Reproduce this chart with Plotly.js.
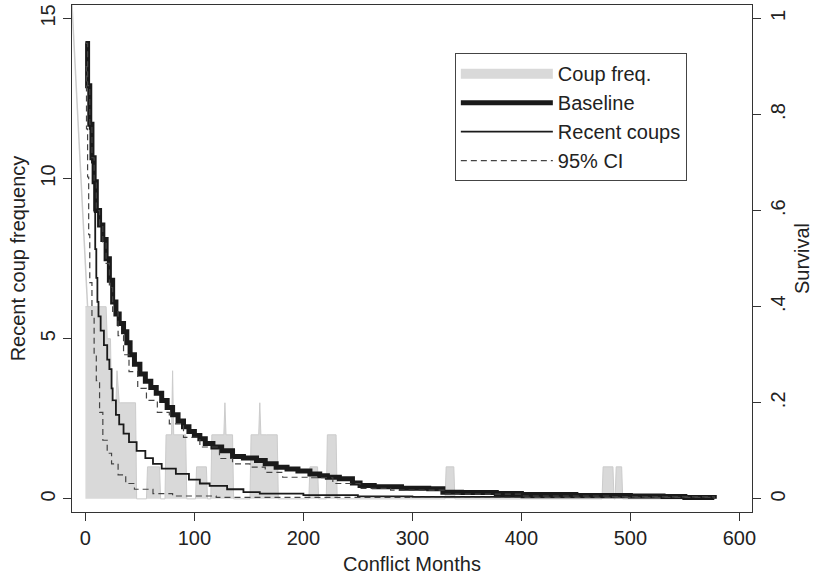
<!DOCTYPE html>
<html><head><meta charset="utf-8">
<script src="https://cdn.plot.ly/plotly-3.0.1.min.js"></script>
<style>html,body{margin:0;padding:0;background:#fff}#c{width:815px;height:581px}</style>
</head><body><div id="c"></div>
<script>
// Coup frequency (left axis)
var freqMonths = [0,2,12,13,19,20,22,23,24,25,28,29,31,32,33,34,46,47,56,57,68,69,73,74,79,80,81,92,93,101,102,111,112,115,116,127,128,129,135,136,151,152,159,160,161,166,167,176,177,205,206,213,214,221,222,230,231,330,331,338,339,474,475,484,485,486,487,492,493,577];
var freqValues = [6,6,6,6,6,5,5,5,3,3,3,4,3,3,3,3,3,0,0,1,1,0,0,2,2,4,2,2,0,0,1,1,0,0,2,2,3,2,2,0,0,2,2,3,2,2,2,2,0,0,1,1,0,0,2,2,0,0,1,1,0,0,1,1,0,0,1,1,0,0];
// leading edge of the frequency series (drawn as a thin line only)
var freqLeadMonths = [-20,2];
var freqLeadValues = [20.5,6];

// Survival (right axis)
var baseMonths = [0,2,4,6,8,10,13,16,19,22,25,28,31,35,38,41,45,50,55,60,65,70,75,80,85,90,95,100,105,110,117,125,135,145,157,165,175,185,195,206,215,222,233,245,252,265,290,315,328,345,377,400,450,500,530,550,577];
var baseSurv = [0.948,0.86,0.78,0.71,0.66,0.60,0.57,0.54,0.50,0.455,0.41,0.385,0.365,0.348,0.325,0.30,0.28,0.26,0.245,0.232,0.22,0.205,0.19,0.175,0.162,0.15,0.14,0.132,0.125,0.115,0.108,0.10,0.088,0.085,0.080,0.073,0.066,0.062,0.058,0.052,0.048,0.045,0.042,0.033,0.028,0.025,0.022,0.021,0.014,0.013,0.011,0.009,0.007,0.006,0.005,0.003,0.0];
var recMonths = [0,2,4,6,7,8,9,10,11,12,14,17,20,22,24,25,28,31,35,40,47,55,62,70,83,95,105,114,130,145,160,200,250,300,400,577];
var recSurv = [0.948,0.86,0.77,0.70,0.66,0.60,0.52,0.46,0.41,0.38,0.35,0.32,0.29,0.27,0.23,0.205,0.175,0.155,0.136,0.118,0.10,0.085,0.073,0.063,0.052,0.040,0.032,0.027,0.020,0.014,0.011,0.008,0.005,0.004,0.003,0.0];
var ciLoMonths = [0,1,2,3,4,6,8,10,13,16,20,24,30,37,45,62,80,120,577];
var ciLo = [0.90,0.77,0.67,0.55,0.45,0.38,0.30,0.246,0.18,0.122,0.095,0.073,0.05,0.032,0.02,0.011,0.006,0.003,0.0];
var ciHiMonths = [0,2,4,6,8,10,13,16,19,22,25,30,35,40,48,56,66,77,90,105,123,135,151,165,181,206,227,252,280,330,400,480,577];
var ciHi = [0.948,0.86,0.78,0.71,0.66,0.60,0.57,0.535,0.49,0.44,0.39,0.34,0.30,0.265,0.23,0.205,0.18,0.156,0.128,0.108,0.084,0.073,0.066,0.055,0.045,0.044,0.032,0.022,0.018,0.010,0.006,0.004,0.0];

var dashStyle = {color:'#444', width:1.2, dash:'6px,4px', shape:'hv'};
var traces = [
  {x:freqMonths, y:freqValues, type:'scatter', mode:'lines', fill:'tozeroy', fillcolor:'#d9d9d9', line:{color:'#cccccc', width:1}, name:'Coup freq.', showlegend:false, yaxis:'y'},
  {x:[null], y:[null], type:'scatter', mode:'lines', line:{color:'#d9d9d9', width:18}, name:'Coup freq.', yaxis:'y'},
  {x:freqLeadMonths, y:freqLeadValues, type:'scatter', mode:'lines', line:{color:'#cccccc', width:1.5}, showlegend:false, yaxis:'y'},
  {x:baseMonths, y:baseSurv, type:'scatter', mode:'lines', line:{color:'#1a1a1a', width:5, shape:'hv'}, name:'Baseline', yaxis:'y2'},
  {x:recMonths, y:recSurv, type:'scatter', mode:'lines', line:{color:'#1a1a1a', width:1.8, shape:'hv'}, name:'Recent coups', yaxis:'y2'},
  {x:ciLoMonths, y:ciLo, type:'scatter', mode:'lines', line:dashStyle, name:'95% CI', legendgroup:'ci', yaxis:'y2'},
  {x:ciHiMonths, y:ciHi, type:'scatter', mode:'lines', line:dashStyle, name:'95% CI', legendgroup:'ci', showlegend:false, yaxis:'y2'}
];
var fnt = {family:'Liberation Sans, Arial, sans-serif', size:20, color:'#222'};
var layout = {
  width:815, height:581,
  margin:{l:72, r:63, t:5, b:69},
  paper_bgcolor:'#fff', plot_bgcolor:'#fff',
  font:fnt,
  showlegend:true,
  legend:{x:0.563, y:0.905, xanchor:'left', yanchor:'top', bordercolor:'#444', borderwidth:1, bgcolor:'#fff', font:fnt, itemwidth:92, tracegroupgap:0, traceorder:'normal'},
  xaxis:{range:[-12.3,611.6], tickvals:[0,100,200,300,400,500,600], ticks:'outside', ticklen:8, tickcolor:'#333', showline:true, linecolor:'#333', mirror:true, showgrid:false, zeroline:false, title:{text:'Conflict Months', font:fnt, standoff:8}, tickfont:fnt},
  yaxis:{range:[-0.41,15.42], tickvals:[0,5,10,15], tickangle:-90, ticks:'outside', ticklen:8, tickcolor:'#333', showline:true, linecolor:'#333', showgrid:false, zeroline:false, title:{text:'Recent coup frequency', font:fnt, standoff:6}, tickfont:fnt},
  yaxis2:{overlaying:'y', side:'right', range:[-0.41/15,15.42/15], tickvals:[0,0.2,0.4,0.6,0.8,1], ticktext:['0','.2','.4','.6','.8','1'], tickangle:-90, ticks:'outside', ticklen:8, tickcolor:'#333', showline:true, linecolor:'#333', showgrid:false, zeroline:false, title:{text:'Survival', font:fnt, standoff:6}, tickfont:fnt}
};
Plotly.newPlot('c', traces, layout, {displayModeBar:false, staticPlot:true});
</script></body></html>
